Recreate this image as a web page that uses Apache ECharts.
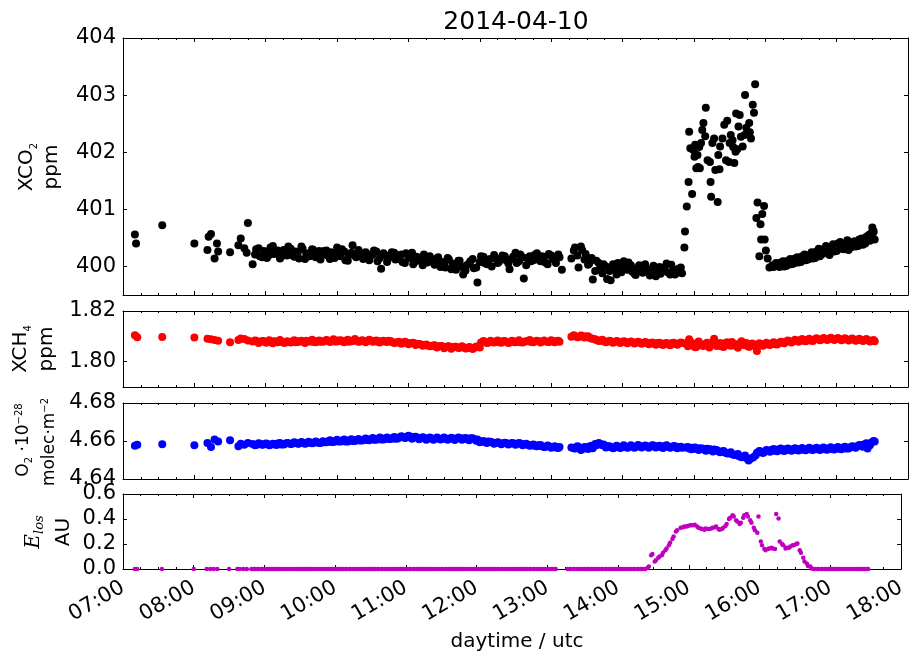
<!DOCTYPE html>
<html>
<head>
<meta charset="utf-8">
<script src="https://cdn.jsdelivr.net/npm/echarts@6/dist/echarts.min.js"></script>
<style>
html,body{margin:0;padding:0;background:#ffffff;}
#chart{width:909px;height:656px;}
</style>
</head>
<body>
<div id="chart"></div>
<script>
// ---------------- DATA (times in minutes after midnight UTC) ----------------
const xTickLabels = ['07:00','08:00','09:00','10:00','11:00','12:00','13:00','14:00','15:00','16:00','17:00','18:00'];

const titleText = '2014-04-10';
const xTitle = 'daytime / utc';

// XCO2 (ppm) - first batch of measurements
const co2Times = [
 430,431,453,480,491,492,494,497,499,500,510,517,519,522,524,525,529,
 532,535,538,541,544,547,550,553,556,559,
 562,565,568,571,574,577,580,583,586,589,
 592,595,598,601,604,607,610,613,616,619,
 622,625,628,631,634,637,640,643,646,649,
 652,655,658,661,664,667,670,673,676,679,
 682,685,688,691,694,697,700,703,706,709,
 712,715,718,721,724,727,730,733,736,739,
 742,745,748,751,754,757,760,763,766,769,
 772,775,778,781,784,787,789,
 797,800,803,806,809,812,815,818,821,824,
 827,830,833,836,839,842,845,848,851,854,
 857,860,863,866,869,872,875,878,881,884,887,890,
 892,892.5,894,895.5,896,897,898.5,899.5,900.5,901,902,903,903.5,904.5,905,
 906,907,908,909.5,910,911.5,913.5,914,914.5,915.5,917,918,920,920.5,921.5,
 922,924,925.5,927,928,929.5,930,931,932.5,933,934,935,935.5,936.5,937.5,
 938.5,939.5,941,942.5,943,944,945,946.5,947,948,949.5,950.5,951.5,
 952.5,953.5,955,956,956.5,957.5,959,959.5,960.5,962,963.5,
 966,969,972,975,978,981,984,987,990,993,
 996,999,1002,1005,1008,1011,1014,1017,1020,1023,
 1026,1029,1032,1035,1038,1041,1044,1047,1049,1050,1051,1052
];
const co2Values = [
 400.56,400.40,400.72,400.40,400.29,400.52,400.57,400.14,400.40,400.26,400.25,400.37,400.49,400.32,400.24,400.76,400.04,
 400.30,400.18,400.27,400.15,400.33,400.22,400.28,400.17,400.25,400.35,
 400.20,400.26,400.14,400.31,400.22,400.18,400.29,400.24,400.12,400.27,
 400.19,400.25,400.15,400.23,400.30,400.11,400.20,400.37,400.16,400.24,
 400.13,400.22,400.18,400.28,400.09,399.96,400.20,400.14,400.25,400.12,
 400.19,400.08,400.23,400.15,400.04,400.17,400.10,400.21,400.07,400.13,
 400.03,400.16,400.08,399.98,400.12,400.05,399.94,400.10,399.86,400.02,
 400.09,399.97,399.72,400.18,400.06,400.12,400.00,400.15,400.08,400.19,
 400.11,399.95,400.17,400.06,400.21,399.79,400.14,400.09,400.20,400.12,
 400.18,400.07,400.22,400.14,400.06,400.16,399.94,
 400.14,400.33,399.98,400.29,400.22,400.05,399.77,400.10,399.96,400.04,
 399.78,399.76,399.95,400.06,399.90,399.99,400.07,399.91,399.85,400.02,
 399.89,399.97,399.84,400.01,399.91,399.87,399.98,399.90,400.03,399.86,399.96,399.88,
 400.33,400.61,401.05,401.48,402.36,402.07,401.27,402.04,401.92,402.13,401.72,401.95,401.74,402.09,401.72,
 402.16,402.39,402.51,402.28,402.78,401.86,401.83,401.48,401.22,402.16,402.24,401.69,401.13,401.95,401.70,
 402.10,402.24,402.48,401.86,402.55,401.83,402.16,402.30,402.21,402.09,401.81,402.01,402.68,402.05,402.45,
 402.65,402.27,402.10,402.30,403.00,402.43,402.36,402.51,402.35,402.24,402.83,402.69,403.19,
 400.85,401.12,400.18,400.74,400.47,400.92,401.06,400.47,400.28,400.14,399.98,
 400.02,400.06,399.99,400.09,400.01,400.13,400.05,400.16,400.08,400.21,
 400.12,400.25,400.15,400.31,400.22,400.36,400.20,400.39,400.27,400.43,
 400.30,400.46,400.33,400.44,400.36,400.49,400.40,400.55,400.58,400.68,400.62,400.47
];

// XCO2 (ppm) - second batch of measurements
const co2Times2 = [
 531,534,537,540,543,546,549,552,555,558,
 561,564,567,570,573,576,579,582,585,588,
 591,594,597,600,603,606,609,612,615,618,
 621,624,627,630,633,636,639,642,645,648,
 651,654,657,660,663,666,669,672,675,678,
 681,684,687,690,693,696,699,702,705,708,
 711,714,717,720,723,726,729,732,735,738,
 741,744,747,750,753,756,759,762,765,768,
 771,774,777,780,783,786,
 799,802,805,808,811,814,817,820,823,826,
 829,832,835,838,841,844,847,850,853,856,
 859,862,865,868,871,874,877,880,883,886,889,
 967,970,973,976,979,982,985,988,991,994,
 997,1000,1003,1006,1009,1012,1015,1018,1021,1024,
 1027,1030,1033,1036,1039,1042,1045,1048,1051
];
const co2Values2 = [
 400.21,400.32,400.16,400.26,400.20,400.36,400.23,400.14,400.29,400.19,
 400.31,400.17,400.25,400.35,400.13,400.23,400.30,400.16,400.27,400.21,
 400.28,400.13,400.22,400.33,400.18,400.26,400.10,400.24,400.19,400.29,
 400.17,400.25,400.11,400.21,400.26,400.15,400.23,400.08,400.19,400.24,
 400.13,400.21,400.06,400.17,400.24,400.09,400.15,400.02,400.12,400.18,
 400.08,400.14,399.99,400.07,400.15,399.95,400.04,400.10,399.99,399.93,
 400.05,400.13,399.98,400.08,400.17,400.04,400.13,400.20,400.06,400.14,
 400.18,400.05,400.13,400.24,400.09,400.16,400.02,400.18,400.11,400.23,
 400.09,400.17,400.04,400.19,400.11,400.21,
 400.28,400.19,400.35,400.12,400.03,400.15,399.92,400.06,399.88,400.00,
 399.92,400.04,399.86,399.97,400.09,399.94,400.02,399.87,399.98,399.92,
 400.04,399.88,399.95,399.83,399.99,399.93,400.05,399.86,399.94,399.89,399.98,
 399.99,400.04,400.07,400.00,400.10,400.04,400.14,400.07,400.18,400.11,
 400.20,400.14,400.26,400.18,400.30,400.24,400.33,400.26,400.40,400.31,
 400.38,400.29,400.42,400.35,400.47,400.38,400.52,400.45,400.60
];

// measurement times shared by XCH4, O2 column and E_los (first batch)
const times = [
 430,432,453,480,491,494,497,500,510,517,519,522,525,
 529,532,535,538,541,544,547,550,553,556,559,
 562,565,568,571,574,577,580,583,586,589,592,
 595,598,601,604,607,610,613,616,619,622,625,
 628,631,634,637,640,643,646,649,652,655,658,
 661,664,667,670,673,676,679,682,685,688,691,
 694,697,700,703,706,709,712,715,718,721,724,
 727,730,733,736,739,742,745,748,751,754,757,
 760,763,766,769,772,775,778,781,784,787,
 797,800,803,806,809,812,815,818,821,824,
 827,830,833,836,839,842,845,848,851,854,
 857,860,863,866,869,872,875,878,881,884,887,890,
 893,896,899,902,905,908,911,914,917,920,
 923,926,929,932,935,938,941,944,947,950,
 953,956,959,962,965,968,971,974,977,980,
 983,986,989,992,995,998,1001,1004,1007,1010,
 1013,1016,1019,1022,1025,1028,1031,1034,1037,1040,
 1043,1046,1049,1052
];

// XCH4 (ppm), first batch
const ch4Values = [
 1.8104,1.8096,1.8097,1.8095,1.8090,1.8088,1.8086,1.8083,1.8077,1.8086,1.8091,1.8089,1.8084,
 1.8080,1.8083,1.8078,1.8082,1.8076,1.8079,1.8081,1.8077,1.8079,1.8075,1.8078,
 1.8080,1.8077,1.8081,1.8079,1.8083,1.8080,1.8078,1.8082,1.8079,1.8081,1.8084,
 1.8082,1.8080,1.8084,1.8081,1.8083,1.8079,1.8082,1.8084,1.8080,1.8083,1.8081,
 1.8084,1.8081,1.8079,1.8082,1.8080,1.8083,1.8078,1.8076,1.8079,1.8074,1.8076,
 1.8073,1.8075,1.8071,1.8069,1.8066,1.8064,1.8062,1.8065,1.8060,1.8062,1.8058,
 1.8061,1.8057,1.8059,1.8055,1.8057,1.8053,1.8056,1.8054,1.8058,1.8076,1.8079,
 1.8075,1.8078,1.8080,1.8077,1.8081,1.8079,1.8076,1.8078,1.8080,1.8077,1.8079,
 1.8081,1.8078,1.8080,1.8082,1.8079,1.8081,1.8078,1.8080,1.8082,1.8079,
 1.8098,1.8101,1.8097,1.8102,1.8099,1.8094,1.8090,1.8086,1.8084,1.8081,
 1.8079,1.8081,1.8078,1.8080,1.8077,1.8079,1.8076,1.8078,1.8075,1.8077,
 1.8074,1.8076,1.8073,1.8071,1.8074,1.8070,1.8072,1.8069,1.8073,1.8070,1.8072,1.8074,
 1.8072,1.8088,1.8064,1.8058,1.8070,1.8062,1.8075,1.8066,1.8090,1.8068,
 1.8061,1.8073,1.8066,1.8078,1.8063,1.8071,1.8067,1.8074,1.8060,1.8069,
 1.8042,1.8066,1.8070,1.8068,1.8071,1.8069,1.8073,1.8076,1.8079,1.8081,
 1.8080,1.8083,1.8085,1.8083,1.8086,1.8084,1.8087,1.8089,1.8087,1.8090,
 1.8088,1.8091,1.8089,1.8090,1.8087,1.8089,1.8086,1.8088,1.8085,1.8087,
 1.8084,1.8086,1.8083,1.8081
];

// O2 column (1e28 molec/m2), first batch
const o2Values = [
 4.6575,4.6580,4.6583,4.6577,4.6590,4.6568,4.6608,4.6597,4.6604,4.6573,4.6586,4.6580,4.6590,
 4.6584,4.6579,4.6586,4.6581,4.6585,4.6580,4.6583,4.6587,4.6582,4.6585,4.6588,
 4.6586,4.6590,4.6587,4.6591,4.6588,4.6592,4.6589,4.6593,4.6590,4.6594,4.6597,
 4.6595,4.6599,4.6597,4.6601,4.6598,4.6603,4.6600,4.6605,4.6602,4.6607,4.6605,
 4.6609,4.6606,4.6611,4.6608,4.6613,4.6610,4.6615,4.6612,4.6618,4.6622,4.6619,
 4.6624,4.6621,4.6618,4.6614,4.6617,4.6612,4.6615,4.6611,4.6614,4.6610,4.6613,
 4.6611,4.6615,4.6612,4.6616,4.6613,4.6610,4.6614,4.6611,4.6608,4.6598,4.6595,
 4.6597,4.6593,4.6589,4.6591,4.6587,4.6590,4.6586,4.6588,4.6585,4.6587,4.6583,
 4.6580,4.6578,4.6575,4.6577,4.6573,4.6570,4.6572,4.6568,4.6566,4.6569,
 4.6566,4.6560,4.6568,4.6557,4.6564,4.6571,4.6562,4.6578,4.6586,4.6582,
 4.6574,4.6568,4.6564,4.6570,4.6566,4.6572,4.6567,4.6573,4.6569,4.6575,
 4.6571,4.6574,4.6570,4.6576,4.6572,4.6569,4.6574,4.6570,4.6567,4.6572,4.6568,4.6565,
 4.6566,4.6561,4.6564,4.6558,4.6562,4.6556,4.6559,4.6552,4.6555,4.6548,
 4.6545,4.6540,4.6536,4.6530,4.6527,4.6520,4.6516,4.6510,4.6505,4.6515,
 4.6538,4.6545,4.6541,4.6548,4.6552,4.6549,4.6555,4.6551,4.6556,4.6553,
 4.6557,4.6553,4.6558,4.6554,4.6557,4.6555,4.6559,4.6556,4.6560,4.6557,
 4.6561,4.6558,4.6562,4.6559,4.6564,4.6561,4.6566,4.6570,4.6573,4.6577,
 4.6582,4.6560,4.6591,4.6598
];

// E_los (AU), first batch
const elosValues = [
 0,0,0,0,0,0,0,0,0,0,0,0,0,
 0,0,0,0,0,0,0,0,0,0,0,
 0,0,0,0,0,0,0,0,0,0,0,
 0,0,0,0,0,0,0,0,0,0,0,
 0,0,0,0,0,0,0,0,0,0,0,
 0,0,0,0,0,0,0,0,0,0,0,
 0,0,0,0,0,0,0,0,0,0,0,
 0,0,0,0,0,0,0,0,0,0,0,
 0,0,0,0,0,0,0,0,0,0,
 0,0,0,0,0,0,0,0,0,0,
 0,0,0,0,0,0,0,0,0,0,
 0,0,0,0.02,0.12,0.07,0.10,0.13,0.165,0.21,0.26,0.31,
 0.33,0.34,0.345,0.35,0.355,0.33,0.32,0.325,0.32,0.33,
 0.34,0.315,0.33,0.36,0.41,0.42,0.38,0.37,0.43,0.42,
 0.37,0.31,0.42,0.19,0.15,0.165,0.165,0.44,0.22,0.19,
 0.17,0.18,0.19,0.205,0.13,0.06,0.025,0.005,0,0,
 0,0,0,0,0,0,0,0,0,0,
 0,0,0,0
];

// measurement times shared by XCH4, O2 column and E_los (second batch)
const times2 = [
 531,534,537,540,543,546,549,552,555,558,
 561,564,567,570,573,576,579,582,585,588,
 591,594,597,600,603,606,609,612,615,618,
 621,624,627,630,633,636,639,642,645,648,
 651,654,657,660,663,666,669,672,675,678,
 681,684,687,690,693,696,699,702,705,708,
 711,714,717,720,723,726,729,732,735,738,
 741,744,747,750,753,756,759,762,765,768,
 771,774,777,780,783,786,
 799,802,805,808,811,814,817,820,823,826,
 829,832,835,838,841,844,847,850,853,856,
 859,862,865,868,871,874,877,880,883,886,889,
 895,898,901,904,907,910,913,916,919,922,
 925,928,931,934,937,940,943,946,949,952,
 955,958,961,964,967,970,973,976,979,982,
 985,988,991,994,997,1000,1003,1006,1009,1012,
 1015,1018,1021,1024,1027,1030,1033,1036,1039,1042,
 1045,1048,1051
];
const ch4Values2 = [
 1.8084,1.8074,1.8082,1.8076,1.8085,1.8073,1.8080,1.8086,1.8075,1.8081,
 1.8076,1.8085,1.8078,1.8083,1.8074,1.8082,1.8087,1.8077,1.8084,1.8079,
 1.8086,1.8078,1.8088,1.8080,1.8085,1.8077,1.8087,1.8081,1.8089,1.8079,
 1.8085,1.8077,1.8087,1.8079,1.8084,1.8076,1.8083,1.8078,1.8082,1.8074,
 1.8077,1.8071,1.8079,1.8069,1.8074,1.8066,1.8070,1.8063,1.8068,1.8061,
 1.8064,1.8056,1.8062,1.8053,1.8060,1.8051,1.8059,1.8054,1.8061,1.8052,
 1.8058,1.8050,1.8060,1.8056,1.8082,1.8074,1.8083,1.8076,1.8084,1.8075,
 1.8082,1.8074,1.8083,1.8077,1.8085,1.8076,1.8081,1.8086,1.8077,1.8083,
 1.8076,1.8084,1.8078,1.8085,1.8077,1.8083,
 1.8104,1.8096,1.8103,1.8095,1.8100,1.8091,1.8088,1.8082,1.8087,1.8077,
 1.8083,1.8075,1.8082,1.8074,1.8081,1.8073,1.8080,1.8072,1.8079,1.8071,
 1.8078,1.8069,1.8076,1.8067,1.8075,1.8066,1.8074,1.8065,1.8075,1.8067,1.8076,
 1.8061,1.8075,1.8057,1.8080,1.8064,1.8071,1.8056,1.8079,1.8062,1.8074,
 1.8058,1.8077,1.8063,1.8070,1.8055,1.8081,1.8065,1.8059,1.8072,1.8062,
 1.8073,1.8063,1.8075,1.8066,1.8077,1.8068,1.8079,1.8073,1.8084,1.8076,
 1.8087,1.8079,1.8089,1.8081,1.8090,1.8082,1.8092,1.8085,1.8093,1.8086,
 1.8094,1.8086,1.8093,1.8085,1.8092,1.8084,1.8091,1.8083,1.8090,1.8082,
 1.8089,1.8080,1.8086
];
const o2Values2 = [
 4.6578,4.6588,4.6580,4.6587,4.6577,4.6586,4.6579,4.6589,4.6581,4.6590,
 4.6584,4.6594,4.6586,4.6595,4.6585,4.6596,4.6588,4.6598,4.6589,4.6599,
 4.6593,4.6604,4.6595,4.6606,4.6597,4.6608,4.6598,4.6609,4.6600,4.6611,
 4.6602,4.6613,4.6604,4.6616,4.6606,4.6618,4.6608,4.6619,4.6610,4.6621,
 4.6613,4.6625,4.6616,4.6627,4.6612,4.6622,4.6609,4.6620,4.6607,4.6618,
 4.6606,4.6618,4.6608,4.6619,4.6607,4.6617,4.6605,4.6618,4.6606,4.6616,
 4.6604,4.6614,4.6601,4.6593,4.6600,4.6590,4.6596,4.6585,4.6594,4.6583,
 4.6591,4.6581,4.6590,4.6580,4.6589,4.6578,4.6586,4.6575,4.6582,4.6572,
 4.6579,4.6568,4.6576,4.6565,4.6572,4.6563,
 4.6562,4.6572,4.6553,4.6568,4.6558,4.6575,4.6584,4.6590,4.6577,4.6566,
 4.6573,4.6562,4.6575,4.6563,4.6577,4.6564,4.6578,4.6565,4.6579,4.6566,
 4.6576,4.6564,4.6578,4.6566,4.6575,4.6563,4.6577,4.6565,4.6574,4.6562,4.6570,
 4.6568,4.6557,4.6566,4.6553,4.6561,4.6549,4.6558,4.6545,4.6553,4.6541,
 4.6548,4.6534,4.6541,4.6526,4.6532,4.6515,4.6524,4.6498,4.6512,4.6525,
 4.6548,4.6537,4.6552,4.6544,4.6558,4.6546,4.6560,4.6548,4.6561,4.6549,
 4.6562,4.6550,4.6563,4.6551,4.6564,4.6552,4.6565,4.6553,4.6566,4.6554,
 4.6567,4.6555,4.6568,4.6557,4.6570,4.6560,4.6573,4.6565,4.6579,4.6570,
 4.6588,4.6578,4.6600
];
const elosValues2 = [
 0,0,0,0,0,0,0,0,0,0,
 0,0,0,0,0,0,0,0,0,0,
 0,0,0,0,0,0,0,0,0,0,
 0,0,0,0,0,0,0,0,0,0,
 0,0,0,0,0,0,0,0,0,0,
 0,0,0,0,0,0,0,0,0,0,
 0,0,0,0,0,0,0,0,0,0,
 0,0,0,0,0,0,0,0,0,0,
 0,0,0,0,0,0,
 0,0,0,0,0,0,0,0,0,0,
 0,0,0,0,0,0,0,0,0,0,
 0,0,0.01,0.11,0.06,0.09,0.11,0.15,0.19,0.24,0.30,
 0.335,0.34,0.35,0.35,0.34,0.325,0.315,0.32,0.325,0.335,
 0.32,0.32,0.345,0.40,0.43,0.39,0.36,0.41,0.44,0.39,
 0.33,0.29,0.22,0.16,0.16,0.17,0.16,0.405,0.20,0.165,
 0.17,0.19,0.20,0.15,0.09,0.045,0.02,0,0,0,
 0,0,0,0,0,0,0,0,0,0,
 0,0,0
];

// y-axis tick values per panel
const co2Ticks = [400, 401, 402, 403, 404];
const ch4Ticks = [1.80, 1.82];
const o2Ticks = [4.64, 4.66, 4.68];
const elosTicks = [0, 0.2, 0.4, 0.6];

// ---------------- CHART ----------------
const FONT = 'DejaVu Sans';
const zip = (a, b) => a.map((t, i) => [t, b[i]]);

const panels = [
  {top: 38,  height: 257, min: 399.5, max: 404,  interval: 0.5,  ticks: co2Ticks,  dec: 0},
  {top: 311, height: 76,  min: 1.79,  max: 1.82, interval: 0.01, ticks: ch4Ticks,  dec: 2},
  {top: 403, height: 76,  min: 4.64,  max: 4.68, interval: 0.02, ticks: o2Ticks,   dec: 2},
  {top: 494, height: 75,  min: 0,     max: 0.6,  interval: 0.2,  ticks: elosTicks, dec: 1}
];

const grids = [], xAxes = [], yAxes = [];
panels.forEach((p, i) => {
  grids.push({left: 123, width: 785, top: p.top, height: p.height, containLabel: false});
  ['bottom', 'top'].forEach(pos => {
    xAxes.push({
      type: 'value', gridIndex: i, position: pos, min: 420, max: 1080, interval: 60,
      axisLine: {show: true, onZero: false, lineStyle: {color: '#000', width: 1}},
      axisTick: {show: true, inside: true, length: 4, lineStyle: {color: '#000', width: 1}},
      minorTick: {show: true, splitNumber: 4, length: 2, lineStyle: {color: '#000', width: 1}},
      splitLine: {show: false}, minorSplitLine: {show: false},
      axisLabel: {
        show: pos === 'bottom' && i === 3, rotate: 30, fontSize: 21, fontFamily: FONT,
        color: '#000', margin: 17,
        formatter: v => xTickLabels[Math.round((v - 420) / 60)]
      }
    });
  });
  ['left', 'right'].forEach(pos => {
    yAxes.push({
      type: 'value', gridIndex: i, position: pos, min: p.min, max: p.max, interval: p.interval,
      axisLine: {show: true, onZero: false, lineStyle: {color: '#000', width: 1}},
      axisTick: {show: true, inside: true, length: 4, customValues: p.ticks, lineStyle: {color: '#000', width: 1}},
      splitLine: {show: false},
      axisLabel: {
        show: pos === 'left', customValues: p.ticks, fontSize: 21, fontFamily: FONT,
        color: '#000', margin: 7, formatter: v => v.toFixed(p.dec)
      }
    });
  });
});

const seriesDefs = [
  {name: 'XCO2', panel: 0, data: zip(co2Times, co2Values).concat(zip(co2Times2, co2Values2)), color: '#000000', size: 8},
  {name: 'XCH4', panel: 1, data: zip(times, ch4Values).concat(zip(times2, ch4Values2)), color: '#ff0000', size: 8},
  {name: 'O2',   panel: 2, data: zip(times, o2Values).concat(zip(times2, o2Values2)), color: '#0000ff', size: 8},
  {name: 'Elos', panel: 3, data: zip(times, elosValues).concat(zip(times2, elosValues2)), color: '#bf00bf', size: 4.5}
];

const series = seriesDefs.map(s => ({
  type: 'scatter', name: s.name, xAxisIndex: 2 * s.panel, yAxisIndex: 2 * s.panel,
  data: s.data, symbol: 'circle', symbolSize: s.size,
  itemStyle: {color: s.color, opacity: 1}, silent: true, clip: false
}));

function vText(x, y, text, rich) {
  return {type: 'text', x: x, y: y, rotation: Math.PI / 2, silent: true,
    style: {text: text, rich: rich, fill: '#000', align: 'center', verticalAlign: 'middle',
            textAlign: 'center', textVerticalAlign: 'middle', fontFamily: FONT, fontSize: 20}};
}
const richMain = {
  a: {fontFamily: FONT, fontSize: 20, color: '#000', lineHeight: 24},
  s: {fontFamily: FONT, fontSize: 10, color: '#000', verticalAlign: 'bottom', lineHeight: 10},
  b: {fontFamily: FONT, fontSize: 17, color: '#000', lineHeight: 20},
  bs: {fontFamily: FONT, fontSize: 10, color: '#000', verticalAlign: 'bottom', lineHeight: 10},
  bp: {fontFamily: FONT, fontSize: 10, color: '#000', verticalAlign: 'top', lineHeight: 10},
  e: {fontFamily: 'DejaVu Serif', fontStyle: 'italic', fontSize: 20, color: '#000', lineHeight: 24},
  es: {fontFamily: 'DejaVu Serif', fontStyle: 'italic', fontSize: 13, color: '#000', verticalAlign: 'bottom', lineHeight: 13}
};

const graphics = [
  {type: 'text', x: 516, y: 22, silent: true,
   style: {text: titleText, fill: '#000', fontFamily: FONT, fontSize: 25,
           align: 'center', verticalAlign: 'middle', textAlign: 'center', textVerticalAlign: 'middle'}},
  {type: 'text', x: 517, y: 642, silent: true,
   style: {text: xTitle, fill: '#000', fontFamily: FONT, fontSize: 20,
           align: 'center', verticalAlign: 'middle', textAlign: 'center', textVerticalAlign: 'middle'}},
  vText(27, 167, '{a|XCO}{s|2}', richMain),
  vText(52, 167, '{a|ppm}', richMain),
  vText(21, 349, '{a|XCH}{s|4}', richMain),
  vText(47, 349, '{a|ppm}', richMain),
  vText(24, 440, '{b|O}{bs|2}{b| ·10}{bp|−28}', richMain),
  vText(50, 442, '{b|molec·m}{bp|−2}', richMain),
  vText(34, 532, '{e|E}{es|los}', richMain),
  vText(64, 532, '{a|AU}', richMain)
];

const chart = echarts.init(document.getElementById('chart'), null, {renderer: 'canvas'});
chart.setOption({
  animation: false,
  backgroundColor: '#ffffff',
  textStyle: {fontFamily: FONT},
  grid: grids,
  xAxis: xAxes,
  yAxis: yAxes,
  series: series,
  graphic: graphics
});
</script>
</body>
</html>
